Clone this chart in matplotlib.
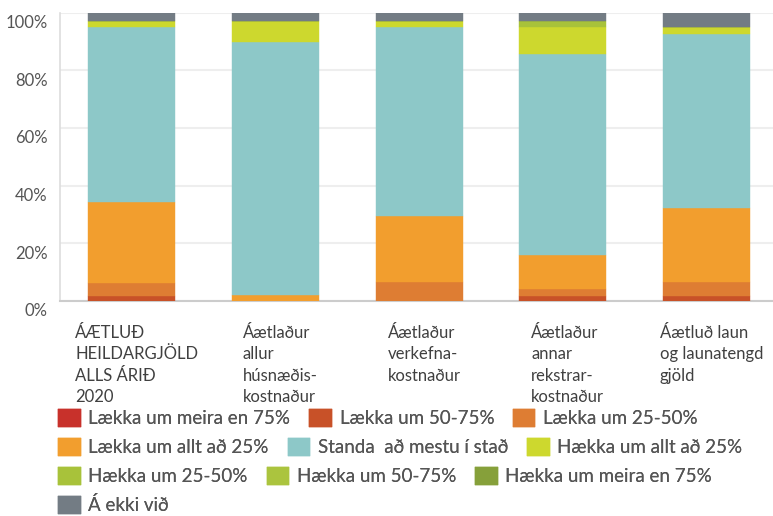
import matplotlib.pyplot as plt
import matplotlib.transforms as mtransforms
import numpy as np

plt.rcParams['font.family'] = ['Lato', 'DejaVu Sans']

categories = [
    "ÁÆTLUÐ\nHEILDARGJÖLD\nALLS ÁRIÐ\n2020",
    "Áætlaður\nallur\nhúsnæðis-\nkostnaður",
    "Áætlaður\nverkefna-\nkostnaður",
    "Áætlaður\nannar\nrekstrar-\nkostnaður",
    "Áætluð laun\nog launatengd\ngjöld",
]

series_names = [
    "Lækka um meira en 75%",
    "Lækka um 50-75%",
    "Lækka um 25-50%",
    "Lækka um allt að 25%",
    "Standa  að mestu í stað",
    "Hækka um allt að 25%",
    "Hækka um 25-50%",
    "Hækka um 50-75%",
    "Hækka um meira en 75%",
    "Á ekki við",
]

# percent per category, one list per series
laekka_75 = [0.0, 0.0, 0.0, 0.0, 0.0]
laekka_50_75 = [1.8, 0.0, 0.0, 1.8, 1.8]
laekka_25_50 = [4.6, 0.0, 6.6, 2.5, 4.7]
laekka_0_25 = [28.0, 2.0, 23.0, 11.6, 25.8]
standa = [60.6, 87.9, 65.4, 69.7, 60.2]
haekka_0_25 = [2.0, 7.1, 2.0, 9.4, 2.5]
haekka_25_50 = [0.0, 0.0, 0.0, 2.0, 0.0]
haekka_50_75 = [0.0, 0.0, 0.0, 0.0, 0.0]
haekka_75 = [0.0, 0.0, 0.0, 0.0, 0.0]
a_ekki_vid = [3.0, 3.0, 3.0, 3.0, 5.0]

series = [laekka_75, laekka_50_75, laekka_25_50, laekka_0_25, standa,
          haekka_0_25, haekka_25_50, haekka_50_75, haekka_75, a_ekki_vid]

colors = ["#c8312b", "#c85128", "#de7d33", "#f29e2e", "#8dc8c8",
          "#cdd82e", "#a8c23a", "#abc43e", "#86a03a", "#737c84"]

fig = plt.figure(figsize=(7.73, 5.16), dpi=100)
ax = fig.add_axes([60 / 773, 215 / 516, 713 / 773, 288.5 / 516])

x = np.arange(len(categories))
bottom = np.zeros(len(categories))
handles = []
for name, vals, col in zip(series_names, series, colors):
    vals = np.array(vals)
    h = ax.bar(x, vals, width=0.606, bottom=bottom, color=col, label=name,
               edgecolor=col, linewidth=0.3, zorder=3)
    handles.append(h)
    bottom += vals

ax.set_ylim(0, 100)
ax.set_xlim(-0.5, 4.465)
ax.set_yticks(range(0, 101, 20))
ax.set_yticklabels([f"{v}%" for v in range(0, 101, 20)])
ax.grid(axis="y", color="#eeeeee", linewidth=1.5, zorder=0)
ax.set_axisbelow(True)

for s in ["top", "right"]:
    ax.spines[s].set_visible(False)
ax.spines["left"].set_color("#dddddd")
ax.spines["left"].set_linewidth(1.2)
ax.spines["bottom"].set_color("#cccccc")
ax.spines["bottom"].set_linewidth(1.5)

ax.tick_params(axis="y", length=0, pad=9, labelsize=12, labelcolor="#555555")
ax.tick_params(axis="x", length=0, pad=17, labelsize=12, labelcolor="#404040")

# y labels sit a bit below their gridlines
offset = mtransforms.ScaledTranslation(0, -9 / 100, fig.dpi_scale_trans)
for lab in ax.get_yticklabels():
    lab.set_transform(lab.get_transform() + offset)

ax.set_xticks(x)
ax.set_xticklabels(categories, linespacing=1.43, ha="center", va="top")
xoff = mtransforms.ScaledTranslation(5 / 100, 0, fig.dpi_scale_trans)
for lab in ax.get_xticklabels():
    lab.set_multialignment("left")
    lab.set_transform(lab.get_transform() + xoff)

# legend: items flow left to right, wrapped into rows
rows = [[0, 1, 2], [3, 4, 5], [6, 7, 8], [9]]
row_y = [418, 447, 476, 505]
for idx, ry in zip(rows, row_y):
    leg = fig.legend([handles[i] for i in idx], [series_names[i] for i in idx],
                     ncol=len(idx), loc="center left",
                     bbox_to_anchor=(58 / 773, 1 - ry / 516),
                     frameon=False, fontsize=13.5, handlelength=1.2,
                     handleheight=1.17, handletextpad=0.42, columnspacing=1.0,
                     borderaxespad=0, borderpad=0)
    for t in leg.get_texts():
        t.set_color("#555555")
    fig.add_artist(leg)

fig.savefig("out.png", dpi=100)
